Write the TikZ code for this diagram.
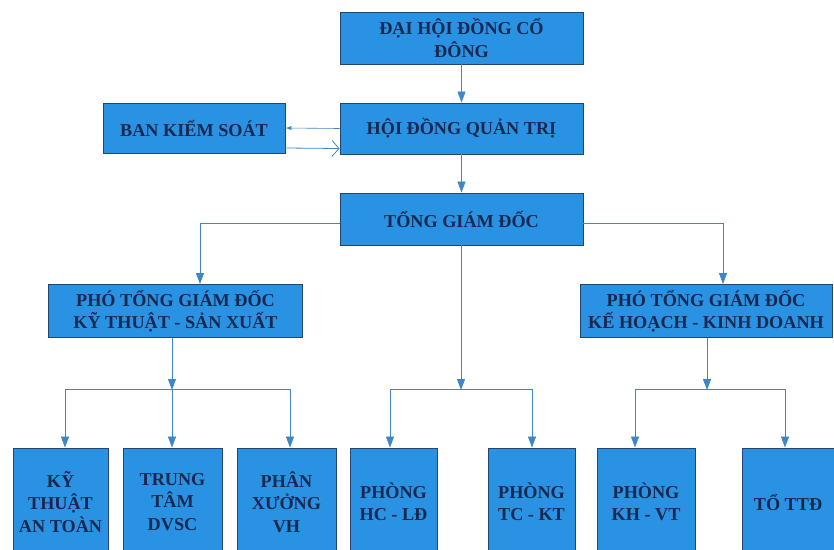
\documentclass[tikz,border=0pt]{standalone}
\usepackage{fontspec}
\setmainfont{Liberation Serif}
\usetikzlibrary{arrows.meta}
\definecolor{boxblue}{HTML}{2A92E2}
\definecolor{boxedge}{HTML}{23456E}
\definecolor{txtnavy}{HTML}{182850}
\definecolor{linblue}{HTML}{3F86C6}
\newcommand\orgboxfont{\bfseries\fontsize{18.2}{22.5}\selectfont\lineskiplimit=-30pt\relax}
\tikzset{
  orgbox/.style={draw=boxedge, line width=0.9pt, fill=boxblue, text=txtnavy,
    align=center, inner sep=2pt, font=\orgboxfont},
  conn/.style={draw=linblue, line width=0.8pt},
  arr/.style={conn, -{Triangle[length=11pt,width=8pt]}},
}
\begin{document}
\begin{tikzpicture}[x=1pt,y=-1pt]
\useasboundingbox (0,0) rectangle (834,549);
\fill[white] (0,0) rectangle (834,549);
\clip (0,0) rectangle (834,549);

\node[orgbox, minimum width=243pt, minimum height=52pt] (dhdcd) at (461.5,38) {ĐẠI HỘI ĐỒNG CỔ\\ĐÔNG};
\node[orgbox, minimum width=243pt, minimum height=51pt] (hdqt) at (461.5,128.5) {HỘI ĐỒNG QUẢN TRỊ};
\node[orgbox, minimum width=182pt, minimum height=50pt] (bks) at (194,128) {BAN KIỂM SOÁT};
\node[orgbox, minimum width=243pt, minimum height=52pt] (tgd) at (461.5,219) {TỔNG GIÁM ĐỐC};
\node[orgbox, minimum width=254pt, minimum height=53pt] (p1) at (175.5,311) {PHÓ TỔNG GIÁM ĐỐC\\KỸ THUẬT - SẢN XUẤT};
\node[orgbox, minimum width=252pt, minimum height=53pt] (p2) at (706,311) {PHÓ TỔNG GIÁM ĐỐC\\KẾ HOẠCH - KINH DOANH};

\node[orgbox, minimum width=95pt, minimum height=108pt] (kt) at (60.5,502) {KỸ\\THUẬT\\AN TOÀN};
\node[orgbox, minimum width=99pt, minimum height=108pt] (tt) at (172.5,502) {TRUNG\\TÂM\\DVSC};
\node[orgbox, minimum width=99pt, minimum height=108pt] (px) at (286.5,502) {PHÂN\\XƯỞNG\\VH};
\node[orgbox, minimum width=87pt, minimum height=108pt] (hc) at (393.5,502) {PHÒNG\\HC - LĐ};
\node[orgbox, minimum width=87pt, minimum height=108pt] (tc) at (531.5,502) {PHÒNG\\TC - KT};
\node[orgbox, minimum width=98pt, minimum height=108pt] (kh) at (646,502) {PHÒNG\\KH - VT};
\node[orgbox, minimum width=92pt, minimum height=108pt] (ttd) at (788,502) {TỔ TTĐ};

% top chain
\draw[arr] (dhdcd) -- (hdqt);
\draw[arr] (hdqt) -- (tgd);

% BKS <-> HDQT
\draw[conn, line width=0.6pt, -{Latex[length=6pt,width=4pt]}] (hdqt.west) -- (bks.east);
\draw[conn, -{Straight Barb[length=7pt,width=16pt]}] ([yshift=-20pt]bks.east) -- ([yshift=-20pt]hdqt.west);

% TGD to deputies
\coordinate (c1) at (200,223);
\coordinate (c2) at (723,223);
\draw[arr] (tgd.west |- c1) -- (c1) -- (c1 |- p1.north);
\draw[arr] (tgd.east |- c2) -- (c2) -- (c2 |- p2.north);

% buses
\coordinate (bl) at (172,389);
\coordinate (bkt) at (65,389);
\coordinate (bpx) at (290,389);
\coordinate (bm) at (461,389);
\coordinate (bhc) at (390,389);
\coordinate (btc) at (532,389);
\coordinate (br) at (707,389);
\coordinate (bkh) at (635,389);
\coordinate (bttd) at (785,389);

\draw[arr] (p1.south -| bl) -- ([yshift=-1pt]bl);
\draw[conn] (bkt) -- (bpx);
\draw[arr] (bkt) -- (bkt |- kt.north);
\draw[arr] (bl) -- (bl |- tt.north);
\draw[arr] (bpx) -- (bpx |- px.north);

\draw[arr] (tgd.south -| bm) -- ([yshift=-1pt]bm);
\draw[conn] (bhc) -- (btc);
\draw[arr] (bhc) -- (bhc |- hc.north);
\draw[arr] (btc) -- (btc |- tc.north);

\draw[arr] (p2.south -| br) -- ([yshift=-1pt]br);
\draw[conn] (bkh) -- (bttd);
\draw[arr] (bkh) -- (bkh |- kh.north);
\draw[arr] (bttd) -- (bttd |- ttd.north);
\end{tikzpicture}
\end{document}
